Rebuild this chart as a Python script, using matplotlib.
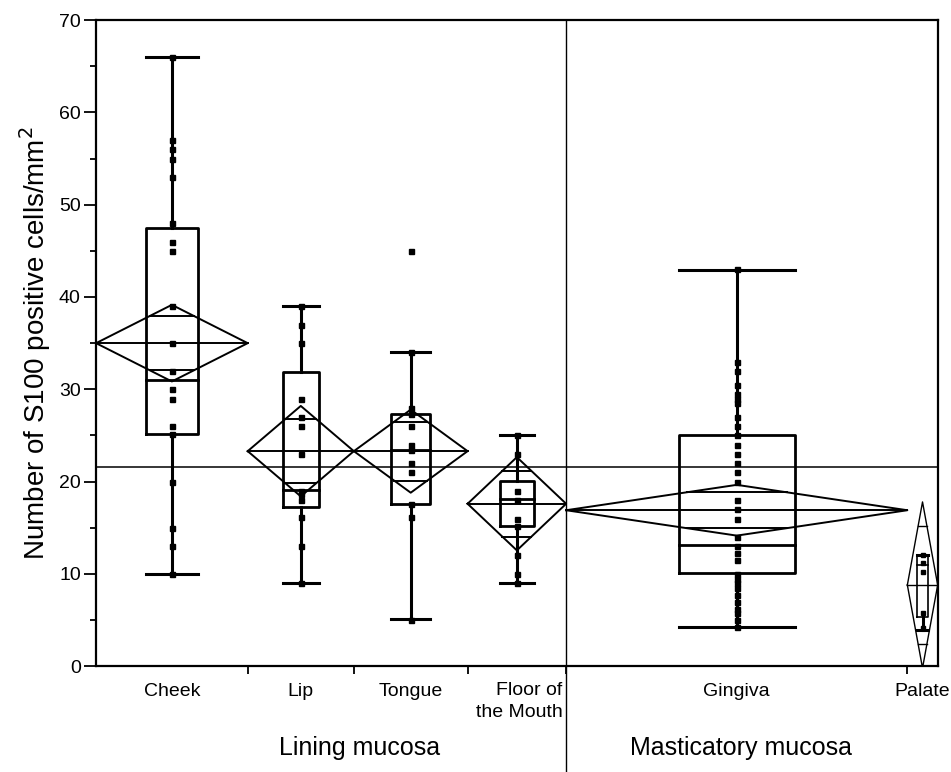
"""
S100 positive cell density by oral mucosa site, JMP-style box plot
with means diamonds. Group widths are proportional to sample size.
"""
import matplotlib
matplotlib.use("Agg")
import matplotlib.pyplot as plt
import numpy as np

plt.rcParams["font.family"] = ["Liberation Sans", "DejaVu Sans"]

GROUPS = ["Cheek", "Lip", "Tongue", "Floor of\nthe Mouth", "Gingiva", "Palate"]
N      = [20, 14, 15, 13, 45, 4]

# box stats
Q1      = [25.2, 17.2, 17.6, 15.2, 10.1, 5.3]
MEDIAN  = [31.0, 19.1, 23.4, 18.1, 13.1, 11.0]
Q3      = [47.5, 31.9, 27.3, 20.1, 25.0, 12.0]
WHIS_LO = [10.0, 9.0, 5.1, 9.0, 4.2, 3.9]
WHIS_HI = [66.0, 39.0, 34.0, 25.1, 42.9, 12.0]

# means diamonds: mean and 95% CI half-width
MEANS   = [35.0, 23.3, 23.3, 17.6, 16.9, 8.8]
CI_HALF = [4.15, 4.9, 4.5, 5.05, 2.75, 9.0]

GRAND_MEAN = 21.6

POINTS = [
    [66, 57, 56, 55, 53, 48, 46, 45, 39, 35, 32, 30, 29, 26, 25.2, 20, 15, 13, 10],
    [39, 37, 35, 29, 27, 26, 23, 19, 18.7, 18, 16.2, 13, 9],
    [45, 34, 28, 27.3, 26, 24, 23.4, 22, 21, 17.6, 16.2, 5],
    [25, 23, 19, 18, 16, 15.2, 12, 10, 9],
    [43, 33, 32, 30.5, 29.5, 29, 28.5, 27, 26, 25, 24, 23, 22, 21, 20, 18, 17,
     16, 14, 13, 12.3, 11.5, 10, 9.5, 9, 8.5, 7.7, 7, 6.2, 5.8, 5, 4.2],
    [12, 11.2, 10.2, 5.8, 4.1],
]

SUPER_LABELS = ["Lining mucosa", "Masticatory mucosa"]

fig = plt.figure(figsize=(9.51, 7.72), dpi=100)
ax = fig.add_axes([0.101, 0.137, 0.885, 0.837])

edges = np.concatenate([[0], np.cumsum(N)])
centers = (edges[:-1] + edges[1:]) / 2

for i in range(len(GROUPS)):
    left, right, c = edges[i], edges[i + 1], centers[i]
    w = right - left
    thin = w < 6
    lw_box = 1.2 if thin else 2.0
    lw_dia = 1.0 if thin else 1.4
    bw = w * 0.34
    # whiskers + caps
    ax.plot([c, c], [WHIS_LO[i], Q1[i]], color="black", lw=2.2)
    ax.plot([c, c], [Q3[i], WHIS_HI[i]], color="black", lw=2.2)
    for y in (WHIS_LO[i], WHIS_HI[i]):
        ax.plot([c - bw / 2, c + bw / 2], [y, y], color="black", lw=2.2)
    # box and median
    ax.plot([c - bw / 2, c + bw / 2, c + bw / 2, c - bw / 2, c - bw / 2],
            [Q1[i], Q1[i], Q3[i], Q3[i], Q1[i]], color="black", lw=lw_box)
    ax.plot([c - bw / 2, c + bw / 2], [MEDIAN[i], MEDIAN[i]], color="black", lw=lw_box)
    # means diamond
    m, h = MEANS[i], CI_HALF[i]
    ax.plot([left, c, right, c, left], [m, m + h, m, m - h, m],
            color="black", lw=lw_dia)
    ax.plot([left, right], [m, m], color="black", lw=lw_dia)
    # overlap marks
    d = h / np.sqrt(2)
    hw = (w / 2) * (1 - 1 / np.sqrt(2))
    for y in (m + d, m - d):
        ax.plot([c - hw, c + hw], [y, y], color="black", lw=lw_dia)
    # raw points
    ax.plot([c] * len(POINTS[i]), POINTS[i], "s", color="black",
            markersize=3.6 if not thin else 3.0, zorder=5)

ax.axhline(GRAND_MEAN, color="black", lw=1.1)
ax.axvline(edges[4], ymin=-0.17, ymax=1, color="black", lw=1.0, clip_on=False)

ax.set_xlim(0, edges[-1])
ax.set_ylim(0, 70)

ax.set_yticks(np.arange(0, 71, 10))
ax.set_yticks(np.arange(5, 70, 10), minor=True)
ax.tick_params(axis="y", which="major", length=9, width=1.3, labelsize=14, pad=2)
ax.tick_params(axis="y", which="minor", length=4.5, width=1.3)

# "Floor of the Mouth" is right-aligned against the divider, drawn separately
tick_labels = [g if i != 3 else "" for i, g in enumerate(GROUPS)]
ax.set_xticks(centers)
ax.set_xticklabels(tick_labels, fontsize=14, va="top")
ax.set_xticks(edges[1:-1], minor=True)
ax.tick_params(axis="x", which="major", length=0, pad=12)
ax.tick_params(axis="x", which="minor", length=6, width=1.3)
ax.text(edges[4] - 0.5, -0.024, GROUPS[3], fontsize=14, ha="right", va="top",
        multialignment="right", linespacing=1.4,
        transform=ax.get_xaxis_transform())

for s in ax.spines.values():
    s.set_linewidth(1.6)

ax.set_ylabel("Number of S100 positive cells/mm$^2$", fontsize=20, labelpad=4)

ax.text(34.8, -0.127, SUPER_LABELS[0], fontsize=18,
        ha="center", va="center", transform=ax.get_xaxis_transform())
ax.text(centers[4] + 0.5, -0.127, SUPER_LABELS[1], fontsize=18,
        ha="center", va="center", transform=ax.get_xaxis_transform())

fig.savefig("out.png", dpi=100)
